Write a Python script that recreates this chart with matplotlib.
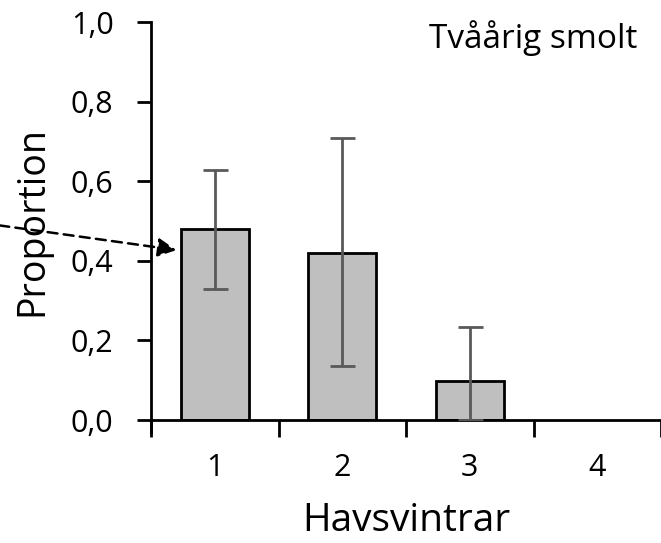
import matplotlib.pyplot as plt
from matplotlib.ticker import FuncFormatter

# data
havsvintrar = [1, 2, 3, 4]
proportion = [0.48, 0.42, 0.098, 0.0]
err_low = [0.33, 0.136, 0.0, 0.0]
err_high = [0.628, 0.709, 0.234, 0.0]

plt.rcParams['font.family'] = ['Open Sans', 'DejaVu Sans']

fig = plt.figure(figsize=(6.61, 5.43), dpi=100)
ax = fig.add_axes([151 / 661, 123 / 543, 510 / 661, 398 / 543])

yerr = [[p - lo for p, lo in zip(proportion, err_low)],
        [hi - p for p, hi in zip(proportion, err_high)]]

ax.bar(havsvintrar[:3], proportion[:3], width=0.53, color='#bfbfbf',
       edgecolor='black', linewidth=2, zorder=2)
ax.errorbar(havsvintrar[:3], proportion[:3],
            yerr=[yerr[0][:3], yerr[1][:3]], fmt='none',
            ecolor='#595959', elinewidth=2, capsize=9, capthick=2, zorder=3)

ax.set_xlim(0.5, 4.5)
ax.set_ylim(0, 1.0)
ax.set_xticks([0.5, 1.5, 2.5, 3.5, 4.5])
ax.set_xticklabels([])
ax.set_xticks(havsvintrar, minor=True)
ax.set_xticklabels([str(h) for h in havsvintrar], minor=True)
ax.tick_params(axis='x', which='major', length=12, width=2, direction='out')
ax.tick_params(axis='x', which='minor', length=0, pad=24, labelsize=22)
ax.set_yticks([0, 0.2, 0.4, 0.6, 0.8, 1.0])
ax.yaxis.set_major_formatter(FuncFormatter(lambda v, p: f"{v:.1f}".replace('.', ',')))
ax.tick_params(axis='y', length=10, width=2, direction='out', labelsize=22, pad=17)

for s in ['top', 'right']:
    ax.spines[s].set_visible(False)
for s in ['left', 'bottom']:
    ax.spines[s].set_linewidth(2)
ax.spines['left'].set_bounds(-0.03, 1.0)

ax.set_ylabel('Proportion', fontsize=27)
ax.yaxis.set_label_coords(-0.233, 0.5)
ax.yaxis.label.set_va('center')
ax.set_xlabel('Havsvintrar', fontsize=28)
ax.xaxis.set_label_coords(0.5, -0.255)
ax.xaxis.label.set_va('center')

ax.text(0.953, 0.96, 'Tvåårig smolt', transform=ax.transAxes, ha='right', va='center', fontsize=24)

ax.annotate('', xy=(0.70, 0.427), xytext=(-0.69, 0.489),
            arrowprops=dict(arrowstyle='-|>', linestyle=(0, (4, 2.5)), color='black', lw=1.8,
                            mutation_scale=28, shrinkA=0, shrinkB=0),
            annotation_clip=False, zorder=5)

fig.savefig('out.png', dpi=100)
